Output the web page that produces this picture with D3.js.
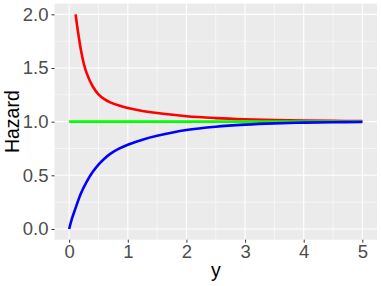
<!DOCTYPE html>
<meta charset="utf-8">
<html>
<head>
  <script src="https://d3js.org/d3.v7.min.js"></script>
  <style>
    body { margin: 0; background: #fff; }
    text { font-family: 'Liberation Sans', Arial, sans-serif; }
    .tick text { fill: #4d4d4d; font-size: 18.5px; }
    .tick line { stroke: #333; }
    .domain { display: none; }
  </style>
</head>
<body>
  <script>
    // Hazard curves
    var redX = [0.11, 0.15, 0.2, 0.25, 0.3, 0.4, 0.5, 0.6, 0.7, 0.85, 1.0, 1.25, 1.5, 2.0, 2.5, 3.0, 3.5, 4.0, 4.5, 5.0];
    var redY = [2.0, 1.84, 1.67, 1.54, 1.45, 1.33, 1.255, 1.21, 1.18, 1.15, 1.128, 1.10, 1.08, 1.05, 1.033, 1.022, 1.015, 1.01, 1.007, 1.005];
    var greenX = [0, 5];
    var greenY = [1, 1];
    var blueX = [0, 0.05, 0.1, 0.2, 0.3, 0.4, 0.5, 0.6, 0.7, 0.85, 1.0, 1.25, 1.5, 2.0, 2.5, 3.0, 3.5, 4.0, 4.5, 5.0];
    var blueY = [0, 0.1, 0.18, 0.33, 0.44, 0.53, 0.60, 0.655, 0.70, 0.748, 0.785, 0.832, 0.868, 0.922, 0.953, 0.972, 0.984, 0.991, 0.995, 0.997];
    var xTicks = [0, 1, 2, 3, 4, 5];
    var xMinor = [0.5, 1.5, 2.5, 3.5, 4.5];
    var yTicks = [0, 0.5, 1, 1.5, 2];
    var yMinor = [0.25, 0.75, 1.25, 1.75];

    var W = 381, H = 286;
    var m = { top: 3.6, right: 4, bottom: 46.3, left: 54.5 };
    var w = W - m.left - m.right,
      h = H - m.top - m.bottom;

    var svg = d3.select('body').append('svg')
      .attr('width', W)
      .attr('height', H);

    var g = svg.append('g')
      .attr('transform', `translate(${m.left}, ${m.top})`);

    var x = d3.scaleLinear().domain([-0.25, 5.25]).range([0, w]);
    var y = d3.scaleLinear().domain([-0.1, 2.1]).range([h, 0]);

    // panel
    g.append('rect').attr('width', w).attr('height', h).attr('fill', '#ebebeb');

    // grid
    g.selectAll('.xminor').data(xMinor).enter().append('line')
      .attr('x1', d => x(d)).attr('x2', d => x(d)).attr('y1', 0).attr('y2', h)
      .attr('stroke', '#fff').attr('stroke-width', 0.55);
    g.selectAll('.yminor').data(yMinor).enter().append('line')
      .attr('y1', d => y(d)).attr('y2', d => y(d)).attr('x1', 0).attr('x2', w)
      .attr('stroke', '#fff').attr('stroke-width', 0.55);
    g.selectAll('.xmajor').data(xTicks).enter().append('line')
      .attr('x1', d => x(d)).attr('x2', d => x(d)).attr('y1', 0).attr('y2', h)
      .attr('stroke', '#fff').attr('stroke-width', 1.1);
    g.selectAll('.ymajor').data(yTicks).enter().append('line')
      .attr('y1', d => y(d)).attr('y2', d => y(d)).attr('x1', 0).attr('x2', w)
      .attr('stroke', '#fff').attr('stroke-width', 1.1);

    // axes
    g.append('g')
      .attr('transform', `translate(0, ${h})`)
      .call(d3.axisBottom(x).tickValues(xTicks).tickFormat(d3.format('d')).tickSize(3).tickPadding(2));
    g.append('g')
      .call(d3.axisLeft(y).tickValues(yTicks).tickFormat(d3.format('.1f')).tickSize(3).tickPadding(3));

    // lines
    var line = d3.line().x(d => x(d[0])).y(d => y(d[1])).curve(d3.curveCatmullRom);
    var series = [
      { xs: redX, ys: redY, col: '#ff0000' },
      { xs: greenX, ys: greenY, col: '#00ff00' },
      { xs: blueX, ys: blueY, col: '#0000ff' }
    ];
    series.forEach(function (s) {
      g.append('path')
        .datum(s.xs.map((v, i) => [v, s.ys[i]]))
        .attr('d', line)
        .attr('fill', 'none')
        .attr('stroke', s.col)
        .attr('stroke-width', 2.6);
    });

    // titles
    svg.append('text')
      .attr('x', m.left + w / 2).attr('y', 277)
      .attr('text-anchor', 'middle')
      .style('font-size', '19.5px')
      .text('y');
    svg.append('text')
      .attr('transform', `translate(18.5, ${m.top + h / 2}) rotate(-90)`)
      .attr('text-anchor', 'middle')
      .style('font-size', '19.5px')
      .text('Hazard');
  </script>
</body>
</html>
